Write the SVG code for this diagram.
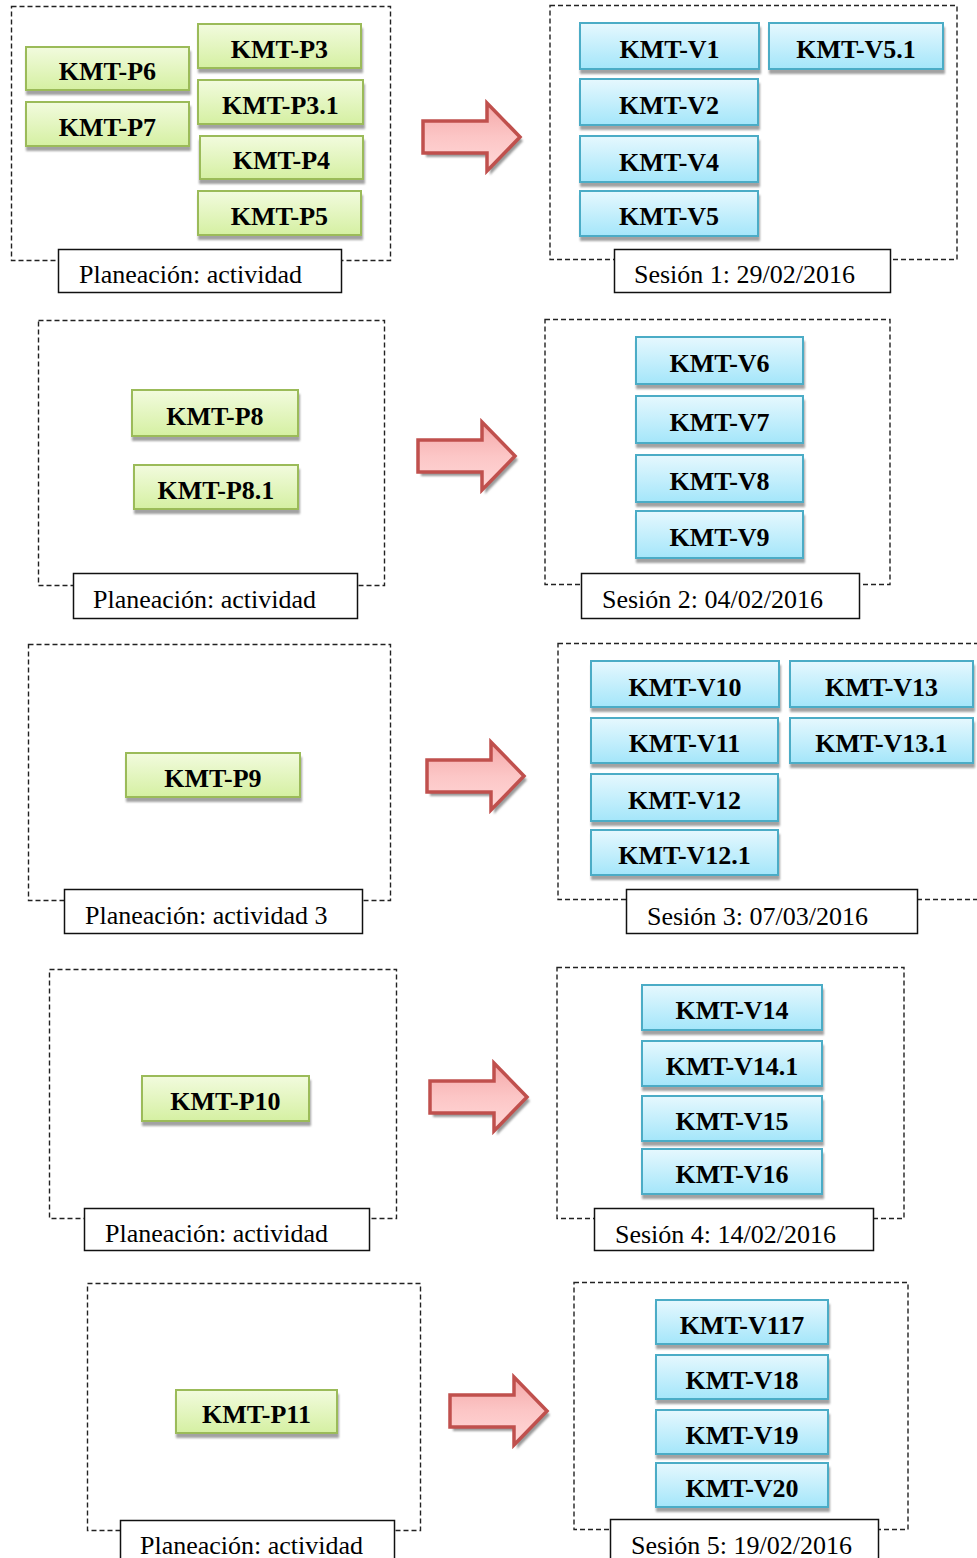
<svg xmlns="http://www.w3.org/2000/svg" width="977" height="1558" viewBox="0 0 977 1558">
  <defs>
    <linearGradient id="gGreen" x1="0" y1="0" x2="0" y2="1">
      <stop offset="0" stop-color="#f2fbde"/>
      <stop offset="1" stop-color="#d5f0a2"/>
    </linearGradient>
    <linearGradient id="gBlue" x1="0" y1="0" x2="0" y2="1">
      <stop offset="0" stop-color="#e6f8fe"/>
      <stop offset="1" stop-color="#a4e6fa"/>
    </linearGradient>
    <linearGradient id="gRed" x1="0" y1="0" x2="0" y2="1">
      <stop offset="0" stop-color="#f4a8a8"/>
      <stop offset="0.5" stop-color="#fcc6c6"/>
      <stop offset="1" stop-color="#ffd8d8"/>
    </linearGradient>
    <filter id="soft" x="-10%" y="-20%" width="120%" height="140%">
      <feGaussianBlur stdDeviation="0.8"/>
    </filter>
    <!-- block arrow: tail at (0,0) on its centre line -->
    <path id="arrowShape" d="M0,-16 H64 V-34 L97,0 L64,34 V16 H0 Z"/>
  </defs>
  <style>
    .frame { fill: none; stroke: #222; stroke-width: 1.4; stroke-dasharray: 5 3; }
    .caption rect { fill: #fff; stroke: #111; stroke-width: 1.5; }
    .caption text { font-family: "Liberation Serif", "Times New Roman", serif; font-size: 26px; fill: #000; }
    .node text { font-family: "Liberation Serif", "Times New Roman", serif; font-size: 26px; font-weight: bold; fill: #000; text-anchor: middle; }
    .node .sh { fill: #a2a2a2; filter: url(#soft); }
    .p .box { fill: url(#gGreen); stroke: #9bbb59; stroke-width: 2; }
    .v .box { fill: url(#gBlue); stroke: #4bacc6; stroke-width: 2; }
    .arrow .ash { fill: #9a9a9a; filter: url(#soft); }
    .arrow .abody { fill: url(#gRed); stroke: #c0504d; stroke-width: 3.5; stroke-linejoin: miter; }
  </style>

  <!-- dashed frames -->
  <g id="frames">
    <rect class="frame" x="11.5" y="6.5" width="379" height="254"/>
    <rect class="frame" x="550" y="5.5" width="407" height="254"/>
    <rect class="frame" x="38.5" y="320.5" width="346" height="265"/>
    <rect class="frame" x="545" y="319.5" width="345" height="265"/>
    <rect class="frame" x="28.5" y="644.5" width="362" height="256"/>
    <rect class="frame" x="558" y="643.5" width="430" height="256"/>
    <rect class="frame" x="49.5" y="969.5" width="347" height="249"/>
    <rect class="frame" x="557" y="967.5" width="347" height="251"/>
    <rect class="frame" x="87.5" y="1283.5" width="333" height="247"/>
    <rect class="frame" x="574" y="1282.5" width="334" height="247"/>
  </g>

  <!-- captions -->
  <g id="cap-plan-1" class="caption"><rect x="58.5" y="249.5" width="283" height="43"/><text x="79" y="283">Planeación: actividad</text></g>
  <g id="cap-ses-1" class="caption"><rect x="614.5" y="249.5" width="276" height="43"/><text x="634" y="283">Sesión 1: 29/02/2016</text></g>
  <g id="cap-plan-2" class="caption"><rect x="73.5" y="573.5" width="284" height="45"/><text x="93" y="608">Planeación: actividad</text></g>
  <g id="cap-ses-2" class="caption"><rect x="581.5" y="573.5" width="278" height="45"/><text x="602" y="608">Sesión 2: 04/02/2016</text></g>
  <g id="cap-plan-3" class="caption"><rect x="64.5" y="889.5" width="298" height="44"/><text x="85" y="924">Planeación: actividad 3</text></g>
  <g id="cap-ses-3" class="caption"><rect x="626.5" y="889.5" width="291" height="44"/><text x="647" y="925">Sesión 3: 07/03/2016</text></g>
  <g id="cap-plan-4" class="caption"><rect x="84.5" y="1208.5" width="285" height="42"/><text x="105" y="1242">Planeación: actividad</text></g>
  <g id="cap-ses-4" class="caption"><rect x="594.5" y="1208.5" width="279" height="42"/><text x="615" y="1243">Sesión 4: 14/02/2016</text></g>
  <g id="cap-plan-5" class="caption"><rect x="120.5" y="1520.5" width="274" height="50"/><text x="140" y="1554">Planeación: actividad</text></g>
  <g id="cap-ses-5" class="caption"><rect x="610.5" y="1519.5" width="268" height="50"/><text x="631" y="1554">Sesión 5: 19/02/2016</text></g>

  <!-- block 1: planning -->
  <g id="KMT-P6" class="node p"><rect class="sh" x="26" y="51" width="165" height="44"/><rect class="box" x="26" y="47" width="163" height="43"/><text x="107.5" y="80">KMT-P6</text></g>
  <g id="KMT-P7" class="node p"><rect class="sh" x="26" y="106" width="165" height="45"/><rect class="box" x="26" y="102" width="163" height="44"/><text x="107.5" y="136">KMT-P7</text></g>
  <g id="KMT-P3" class="node p"><rect class="sh" x="198" y="28" width="165" height="45"/><rect class="box" x="198" y="24" width="163" height="44"/><text x="279.5" y="58">KMT-P3</text></g>
  <g id="KMT-P3.1" class="node p"><rect class="sh" x="198" y="84" width="167" height="45"/><rect class="box" x="198" y="80" width="165" height="44"/><text x="280.5" y="114">KMT-P3.1</text></g>
  <g id="KMT-P4" class="node p"><rect class="sh" x="199" y="140" width="166" height="44"/><rect class="box" x="200" y="136" width="163" height="43"/><text x="281.5" y="169">KMT-P4</text></g>
  <g id="KMT-P5" class="node p"><rect class="sh" x="198" y="195" width="165" height="45"/><rect class="box" x="198" y="191" width="163" height="44"/><text x="279.5" y="225">KMT-P5</text></g>

  <!-- block 1: session -->
  <g id="KMT-V1" class="node v"><rect class="sh" x="580" y="27" width="181" height="47"/><rect class="box" x="580" y="23" width="179" height="46"/><text x="669.5" y="58">KMT-V1</text></g>
  <g id="KMT-V5.1" class="node v"><rect class="sh" x="769" y="27" width="176" height="47"/><rect class="box" x="769" y="23" width="174" height="46"/><text x="856" y="58">KMT-V5.1</text></g>
  <g id="KMT-V2" class="node v"><rect class="sh" x="580" y="83" width="180" height="47"/><rect class="box" x="580" y="79" width="178" height="46"/><text x="669" y="114">KMT-V2</text></g>
  <g id="KMT-V4" class="node v"><rect class="sh" x="580" y="140" width="180" height="47"/><rect class="box" x="580" y="136" width="178" height="46"/><text x="669" y="171">KMT-V4</text></g>
  <g id="KMT-V5" class="node v"><rect class="sh" x="580" y="195" width="180" height="46"/><rect class="box" x="580" y="191" width="178" height="45"/><text x="669" y="225">KMT-V5</text></g>

  <!-- block 2 -->
  <g id="KMT-P8" class="node p"><rect class="sh" x="132" y="394" width="168" height="47"/><rect class="box" x="132" y="390" width="166" height="46"/><text x="215" y="425">KMT-P8</text></g>
  <g id="KMT-P8.1" class="node p"><rect class="sh" x="134" y="469" width="166" height="45"/><rect class="box" x="134" y="465" width="164" height="44"/><text x="216" y="499">KMT-P8.1</text></g>
  <g id="KMT-V6" class="node v"><rect class="sh" x="636" y="341" width="169" height="48"/><rect class="box" x="636" y="337" width="167" height="47"/><text x="719.5" y="372">KMT-V6</text></g>
  <g id="KMT-V7" class="node v"><rect class="sh" x="636" y="400" width="169" height="48"/><rect class="box" x="636" y="396" width="167" height="47"/><text x="719.5" y="431">KMT-V7</text></g>
  <g id="KMT-V8" class="node v"><rect class="sh" x="636" y="459" width="169" height="48"/><rect class="box" x="636" y="455" width="167" height="47"/><text x="719.5" y="490">KMT-V8</text></g>
  <g id="KMT-V9" class="node v"><rect class="sh" x="636" y="515" width="169" height="48"/><rect class="box" x="636" y="511" width="167" height="47"/><text x="719.5" y="546">KMT-V9</text></g>

  <!-- block 3 -->
  <g id="KMT-P9" class="node p"><rect class="sh" x="126" y="757" width="176" height="45"/><rect class="box" x="126" y="753" width="174" height="44"/><text x="213" y="787">KMT-P9</text></g>
  <g id="KMT-V10" class="node v"><rect class="sh" x="591" y="665" width="190" height="47"/><rect class="box" x="591" y="661" width="188" height="46"/><text x="685" y="696">KMT-V10</text></g>
  <g id="KMT-V13" class="node v"><rect class="sh" x="790" y="665" width="185" height="47"/><rect class="box" x="790" y="661" width="183" height="46"/><text x="881.5" y="696">KMT-V13</text></g>
  <g id="KMT-V11" class="node v"><rect class="sh" x="591" y="722" width="189" height="46"/><rect class="box" x="591" y="718" width="187" height="45"/><text x="684.5" y="752">KMT-V11</text></g>
  <g id="KMT-V13.1" class="node v"><rect class="sh" x="790" y="722" width="185" height="46"/><rect class="box" x="790" y="718" width="183" height="45"/><text x="881.5" y="752">KMT-V13.1</text></g>
  <g id="KMT-V12" class="node v"><rect class="sh" x="591" y="778" width="189" height="48"/><rect class="box" x="591" y="774" width="187" height="47"/><text x="684.5" y="809">KMT-V12</text></g>
  <g id="KMT-V12.1" class="node v"><rect class="sh" x="591" y="834" width="189" height="46"/><rect class="box" x="591" y="830" width="187" height="45"/><text x="684.5" y="864">KMT-V12.1</text></g>

  <!-- block 4 -->
  <g id="KMT-P10" class="node p"><rect class="sh" x="142" y="1080" width="169" height="46"/><rect class="box" x="142" y="1076" width="167" height="45"/><text x="225.5" y="1110">KMT-P10</text></g>
  <g id="KMT-V14" class="node v"><rect class="sh" x="642" y="989" width="182" height="46"/><rect class="box" x="642" y="985" width="180" height="45"/><text x="732" y="1019">KMT-V14</text></g>
  <g id="KMT-V14.1" class="node v"><rect class="sh" x="642" y="1045" width="182" height="46"/><rect class="box" x="642" y="1041" width="180" height="45"/><text x="732" y="1075">KMT-V14.1</text></g>
  <g id="KMT-V15" class="node v"><rect class="sh" x="642" y="1100" width="182" height="46"/><rect class="box" x="642" y="1096" width="180" height="45"/><text x="732" y="1130">KMT-V15</text></g>
  <g id="KMT-V16" class="node v"><rect class="sh" x="642" y="1153" width="182" height="46"/><rect class="box" x="642" y="1149" width="180" height="45"/><text x="732" y="1183">KMT-V16</text></g>

  <!-- block 5 -->
  <g id="KMT-P11" class="node p"><rect class="sh" x="176" y="1394" width="163" height="44"/><rect class="box" x="176" y="1390" width="161" height="43"/><text x="256.5" y="1423">KMT-P11</text></g>
  <g id="KMT-V117" class="node v"><rect class="sh" x="656" y="1304" width="174" height="45"/><rect class="box" x="656" y="1300" width="172" height="44"/><text x="742" y="1334">KMT-V117</text></g>
  <g id="KMT-V18" class="node v"><rect class="sh" x="656" y="1359" width="174" height="45"/><rect class="box" x="656" y="1355" width="172" height="44"/><text x="742" y="1389">KMT-V18</text></g>
  <g id="KMT-V19" class="node v"><rect class="sh" x="656" y="1414" width="174" height="45"/><rect class="box" x="656" y="1410" width="172" height="44"/><text x="742" y="1444">KMT-V19</text></g>
  <g id="KMT-V20" class="node v"><rect class="sh" x="656" y="1467" width="174" height="45"/><rect class="box" x="656" y="1463" width="172" height="44"/><text x="742" y="1497">KMT-V20</text></g>

  <!-- connectors: block arrows from planning to session -->
  <g id="connectors" class="arrow">
    <g transform="translate(423,137)"><use href="#arrowShape" class="ash" x="3" y="4"/><use href="#arrowShape" class="abody"/></g>
    <g transform="translate(418,456)"><use href="#arrowShape" class="ash" x="3" y="4"/><use href="#arrowShape" class="abody"/></g>
    <g transform="translate(427,776)"><use href="#arrowShape" class="ash" x="3" y="4"/><use href="#arrowShape" class="abody"/></g>
    <g transform="translate(430,1097)"><use href="#arrowShape" class="ash" x="3" y="4"/><use href="#arrowShape" class="abody"/></g>
    <g transform="translate(450,1411)"><use href="#arrowShape" class="ash" x="3" y="4"/><use href="#arrowShape" class="abody"/></g>
  </g>
</svg>
